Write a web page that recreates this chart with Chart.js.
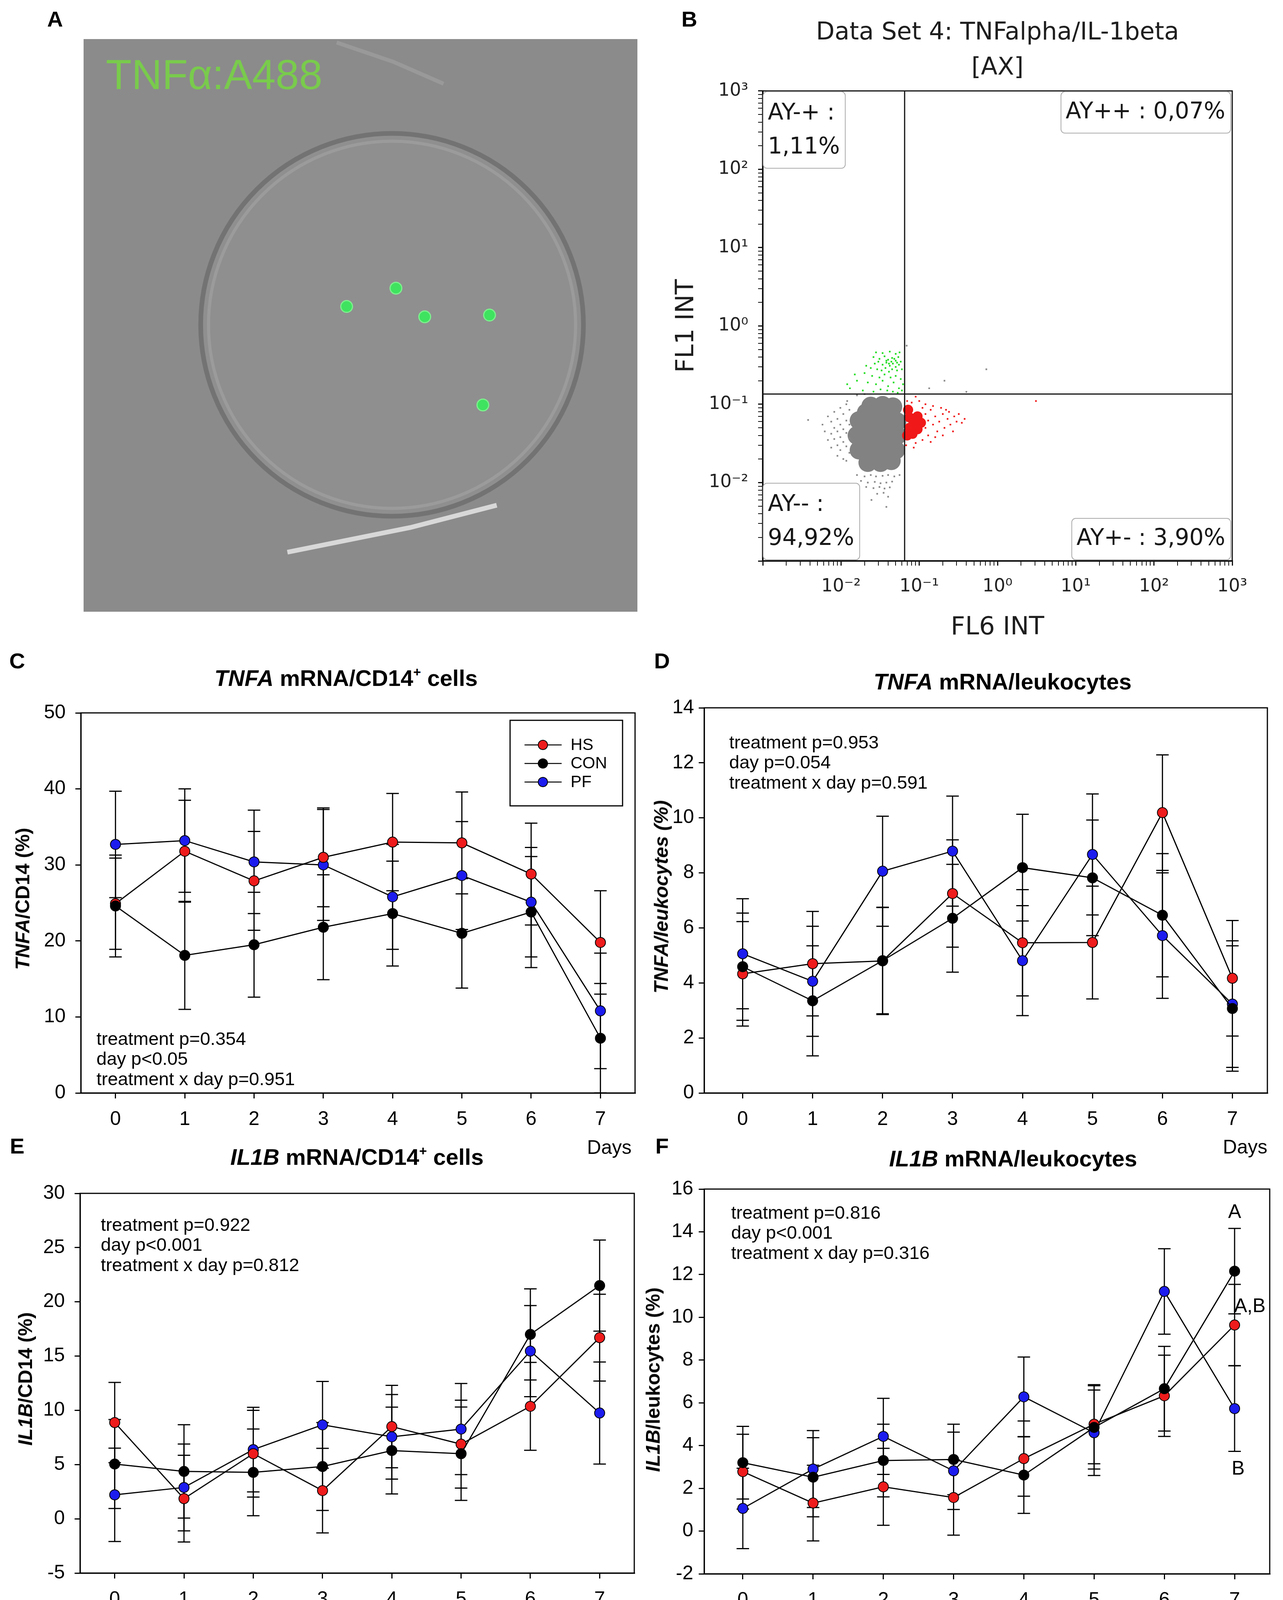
<!DOCTYPE html>
<html lang="en">
<head>
<meta charset="UTF-8">
<title>TNFA / IL1B expression</title>
<style>
  html, body { margin: 0; padding: 0; background: #fff; overflow: hidden; }
  #page { position: relative; width: 3285px; height: 4239px; background: #fff;
          font-family: "Liberation Sans", Arial, sans-serif; color: #000; }
  canvas { position: absolute; }
  .lbl { position: absolute; white-space: nowrap; line-height: 1; transform: translate(-50%, -50%); }
  .panel { font-weight: bold; font-size: 56px; }
  .ttl { font-weight: bold; font-size: 58px; }
  .ttl sup { font-size: 34px; line-height: 0; vertical-align: 24px; }
  .ylab { font-weight: bold; font-size: 50px; transform: translate(-50%, -50%) rotate(-90deg); }
</style>
</head>
<body>
<div id="page">
  <canvas id="chartA"></canvas>
  <canvas id="chartB"></canvas>
  <canvas id="chartC"></canvas>
  <canvas id="chartD"></canvas>
  <canvas id="chartE"></canvas>
  <canvas id="chartF"></canvas>

  <div class="lbl panel" style="left:141px;top:49px">A</div>
  <div class="lbl panel" style="left:1765px;top:49px">B</div>
  <div class="lbl panel" style="left:44px;top:1692px">C</div>
  <div class="lbl panel" style="left:1695px;top:1692px">D</div>
  <div class="lbl panel" style="left:44px;top:2934px">E</div>
  <div class="lbl panel" style="left:1695px;top:2934px">F</div>

  <div class="lbl ttl" style="left:886px;top:1736px"><i>TNFA</i> mRNA/CD14<sup>+</sup> cells</div>
  <div class="lbl ttl" style="left:2567px;top:1745px"><i>TNFA</i> mRNA/leukocytes</div>
  <div class="lbl ttl" style="left:914px;top:2962px"><i>IL1B</i> mRNA/CD14<sup>+</sup> cells</div>
  <div class="lbl ttl" style="left:2594px;top:2966px"><i>IL1B</i> mRNA/leukocytes</div>

  <div class="lbl ylab" style="left:58px;top:2301px"><i>TNFA</i>/CD14 (%)</div>
  <div class="lbl ylab" style="left:1693px;top:2296px"><i>TNFA/leukocytes (%)</i></div>
  <div class="lbl ylab" style="left:65px;top:3530px"><i>IL1B</i>/CD14 (%)</div>
  <div class="lbl ylab" style="left:1672px;top:3532px"><i>IL1B</i>/leukocytes (%)</div>
</div>

<script src="https://cdn.jsdelivr.net/npm/chart.js"></script>
<script>
// ---- data ----
const days = [0, 1, 2, 3, 4, 5, 6, 7];
const dayTitle = 'Days';
const seriesNames = ['HS', 'CON', 'PF'];
const seriesColors = ['#ee1c1c', '#000000', '#1c1cee'];

// C: TNFA mRNA / CD14+ cells
const tnfaCd14Ticks = [0, 10, 20, 30, 40, 50];
const tnfaCd14Hs  = [24.9, 31.8, 27.9, 31.0, 33.0, 32.9, 28.8, 19.8];
const tnfaCd14Con = [24.6, 18.1, 19.5, 21.8, 23.6, 21.0, 23.8, 7.2];
const tnfaCd14Pf  = [32.7, 33.2, 30.4, 30.0, 25.8, 28.6, 25.1, 10.8];
const tnfaCd14HsErr  = [6.0, 6.7, 6.5, 6.5, 6.4, 6.7, 6.7, 6.8];
const tnfaCd14ConErr = [6.7, 7.1, 6.9, 6.9, 6.9, 7.2, 7.3, 7.2];
const tnfaCd14PfErr  = [7.0, 6.8, 6.8, 7.3, 6.9, 7.1, 7.2, 7.6];
const statsC = ['treatment p=0.354', 'day p<0.05', 'treatment x day p=0.951'];

// D: TNFA mRNA / leukocytes
const tnfaLeukTicks = [0, 2, 4, 6, 8, 10, 12, 14];
const tnfaLeukHs  = [4.33, 4.70, 4.80, 7.25, 5.46, 5.47, 10.19, 4.17];
const tnfaLeukCon = [4.59, 3.35, 4.81, 6.35, 8.19, 7.82, 6.46, 3.07];
const tnfaLeukPf  = [5.06, 4.06, 8.06, 8.79, 4.81, 8.67, 5.72, 3.23];
const tnfaLeukHsErr  = [1.9, 1.9, 1.95, 1.95, 1.93, 2.05, 2.1, 2.1];
const tnfaLeukConErr = [1.95, 2.0, 1.93, 1.96, 1.94, 2.1, 2.24, 2.28];
const tnfaLeukPfErr  = [2.0, 2.0, 2.0, 2.0, 2.0, 2.2, 2.28, 2.3];
const statsD = ['treatment p=0.953', 'day p=0.054', 'treatment x day p=0.591'];

// E: IL1B mRNA / CD14+ cells
const il1bCd14Ticks = [-5, 0, 5, 10, 15, 20, 25, 30];
const il1bCd14Hs  = [8.87, 1.86, 6.0, 2.6, 8.5, 6.88, 10.37, 16.7];
const il1bCd14Con = [5.05, 4.37, 4.28, 4.82, 6.29, 6.0, 17.0, 21.5];
const il1bCd14Pf  = [2.21, 2.89, 6.38, 8.66, 7.56, 8.27, 15.46, 9.75];
const il1bCd14HsErr  = [3.7, 4.0, 4.0, 3.9, 3.8, 4.05, 4.05, 4.0];
const il1bCd14ConErr = [4.1, 4.3, 4.0, 4.05, 4.0, 4.3, 4.2, 4.2];
const il1bCd14PfErr  = [4.3, 4.0, 3.9, 4.0, 3.9, 4.2, 4.2, 4.7];
const statsE = ['treatment p=0.922', 'day p<0.001', 'treatment x day p=0.812'];

// F: IL1B mRNA / leukocytes
const il1bLeukTicks = [-2, 0, 2, 4, 6, 8, 10, 12, 14, 16];
const il1bLeukHs  = [2.78, 1.31, 2.07, 1.57, 3.39, 5.0, 6.33, 9.64];
const il1bLeukCon = [3.2, 2.52, 3.30, 3.35, 2.62, 4.85, 6.66, 12.16];
const il1bLeukPf  = [1.06, 2.9, 4.43, 2.82, 6.28, 4.6, 11.21, 5.73];
const il1bLeukHsErr  = [1.75, 1.77, 1.8, 1.76, 1.76, 1.85, 1.9, 1.9];
const il1bLeukConErr = [1.7, 1.85, 1.7, 1.65, 1.79, 1.95, 1.98, 2.0];
const il1bLeukPfErr  = [1.88, 1.8, 1.78, 1.81, 1.86, 2.0, 2.0, 2.0];
const statsF = ['treatment p=0.816', 'day p<0.001', 'treatment x day p=0.316'];
const groupLetters = ['A', 'A,B', 'B'];   // day 7: CON, HS, PF

// B: flow cytometry, FL6 INT (x) vs FL1 INT (y)
const flowTitle = ['Data Set 4: TNFalpha/IL-1beta', '[AX]'];
const flowDecades = [-3, -2, -1, 0, 1, 2];
const gateX = 0.065, gateY = 0.135;
const quadNames = ['AY-+', 'AY++', 'AY--', 'AY+-'];
const quadPct = [1.11, 0.07, 94.92, 3.90];
const grayCore = [
  [0.024, 0.095], [0.034, 0.097], [0.046, 0.093],
  [0.017, 0.062], [0.026, 0.064], [0.038, 0.062], [0.052, 0.060],
  [0.016, 0.040], [0.025, 0.041], [0.037, 0.040], [0.052, 0.040],
  [0.017, 0.026], [0.026, 0.026], [0.038, 0.027], [0.050, 0.026],
  [0.022, 0.018], [0.032, 0.018], [0.044, 0.019],
  [0.021, 0.078], [0.030, 0.079], [0.042, 0.077], [0.021, 0.050], [0.031, 0.051],
  [0.044, 0.050], [0.021, 0.032], [0.031, 0.033], [0.044, 0.033], [0.027, 0.021], [0.038, 0.022]
];
const grayDots = [
  [0.0038, 0.063], [0.0058, 0.055], [0.0062, 0.045], [0.0068, 0.07], [0.0068, 0.035],
  [0.0075, 0.06], [0.0075, 0.042], [0.0075, 0.028], [0.0082, 0.08], [0.0082, 0.05],
  [0.0082, 0.036], [0.009, 0.065], [0.009, 0.045], [0.009, 0.03], [0.009, 0.022],
  [0.0098, 0.09], [0.0098, 0.055], [0.0098, 0.038], [0.0098, 0.026], [0.0107, 0.075],
  [0.0107, 0.048], [0.0107, 0.033], [0.0107, 0.02], [0.0117, 0.1], [0.0117, 0.062],
  [0.0117, 0.043], [0.0117, 0.029], [0.0117, 0.019], [0.0128, 0.085], [0.0128, 0.055],
  [0.0128, 0.037], [0.0128, 0.024], [0.016, 0.0125], [0.02, 0.012], [0.024, 0.0125],
  [0.028, 0.012], [0.034, 0.0122], [0.04, 0.0125], [0.048, 0.012], [0.056, 0.0125],
  [0.018, 0.0105], [0.022, 0.010], [0.027, 0.0102], [0.032, 0.0098], [0.038, 0.010],
  [0.045, 0.0103], [0.021, 0.0088], [0.026, 0.0085], [0.031, 0.0088], [0.036, 0.0084],
  [0.042, 0.0087], [0.029, 0.0072], [0.035, 0.0074], [0.04, 0.0066], [0.0245, 0.006],
  [0.038, 0.0049], [0.016, 0.13], [0.012, 0.11], [0.02, 0.135], [0.72, 0.28],
  [0.134, 0.16], [0.21, 0.2], [0.40, 0.144], [0.069, 0.56]
];
const greenDots = [
  [0.028, 0.46], [0.034, 0.45], [0.042, 0.47], [0.05, 0.44], [0.056, 0.46],
  [0.026, 0.40], [0.031, 0.38], [0.036, 0.41], [0.04, 0.37], [0.045, 0.39],
  [0.05, 0.36], [0.054, 0.40], [0.058, 0.35], [0.027, 0.33], [0.03, 0.35],
  [0.034, 0.32], [0.038, 0.34], [0.042, 0.31], [0.046, 0.33], [0.05, 0.30],
  [0.055, 0.32], [0.024, 0.29], [0.029, 0.28], [0.033, 0.27], [0.037, 0.29],
  [0.041, 0.26], [0.045, 0.28], [0.052, 0.27], [0.06, 0.28], [0.02, 0.25],
  [0.025, 0.23], [0.031, 0.22], [0.036, 0.24], [0.043, 0.22], [0.05, 0.23],
  [0.058, 0.21], [0.016, 0.2], [0.022, 0.19], [0.028, 0.18], [0.034, 0.2],
  [0.04, 0.17], [0.047, 0.19], [0.055, 0.16], [0.062, 0.18], [0.013, 0.16],
  [0.019, 0.15], [0.026, 0.145], [0.032, 0.155], [0.039, 0.15], [0.046, 0.145],
  [0.053, 0.14], [0.06, 0.15], [0.015, 0.24], [0.012, 0.18], [0.021, 0.31],
  [0.038, 0.36], [0.044, 0.35], [0.048, 0.38], [0.041, 0.33], [0.052, 0.34]
];
const redCore = [
  [0.075, 0.068], [0.075, 0.05], [0.085, 0.058], [0.095, 0.07], [0.095, 0.048],
  [0.082, 0.042], [0.07, 0.04], [0.072, 0.085], [0.105, 0.058]
];
const redDots = [
  [0.11, 0.09], [0.12, 0.075], [0.13, 0.062], [0.12, 0.05], [0.14, 0.085],
  [0.15, 0.055], [0.16, 0.07], [0.17, 0.045], [0.18, 0.06], [0.2, 0.075],
  [0.21, 0.05], [0.23, 0.065], [0.25, 0.055], [0.28, 0.07], [0.3, 0.06],
  [0.35, 0.058], [0.38, 0.065], [0.13, 0.04], [0.11, 0.035], [0.09, 0.032],
  [0.08, 0.105], [0.1, 0.11], [0.12, 0.1], [0.15, 0.095], [0.19, 0.09],
  [0.22, 0.085], [0.085, 0.028], [0.14, 0.033], [0.27, 0.045], [0.16, 0.038],
  [0.24, 0.08], [0.068, 0.03], [0.07, 0.11], [0.09, 0.125], [0.32, 0.075],
  [0.2, 0.04], [3.1, 0.11]
];

// A: cell image (positions in % of the frame)
const stainLabel = 'TNFα:A488';
const cellCentre = [[55.7, 50.1]];
const greenSpots = [[47.5, 53.3], [56.4, 56.5], [61.6, 51.5], [73.3, 51.8], [72.1, 36.1]];
const lowerStreak = [[36.8, 10.4], [59.0, 14.7], [74.6, 18.6]];
const upperStreak = [[45.7, 99.4], [56.0, 96.0], [65.0, 92.2]];

// ---- helpers ----
const FONT = '"Liberation Sans", Arial, sans-serif';
const FLOWFONT = '"DejaVu Sans", Verdana, sans-serif';
Chart.defaults.font.family = FONT;
Chart.defaults.color = '#000';

function place(id, left, top, w, h) {
  const c = document.getElementById(id);
  c.width = w; c.height = h;
  c.style.left = left + 'px'; c.style.top = top + 'px';
  c.style.width = w + 'px'; c.style.height = h + 'px';
  return c;
}
const pts = arr => arr.map(p => ({x: p[0], y: p[1]}));

// vertical error bars with caps, under the markers
const errorBars = {
  id: 'errorBars',
  beforeDatasetsDraw(chart) {
    const ctx = chart.ctx, ys = chart.scales.y;
    ctx.save();
    ctx.strokeStyle = '#000';
    ctx.lineWidth = 3;
    chart.data.datasets.forEach((ds, i) => {
      chart.getDatasetMeta(i).data.forEach((pt, j) => {
        const v = ds.data[j].y, e = ds.errors[j];
        const top = ys.getPixelForValue(v + e), bot = ys.getPixelForValue(v - e);
        ctx.beginPath();
        ctx.moveTo(pt.x, top); ctx.lineTo(pt.x, bot);
        ctx.moveTo(pt.x - 16, top); ctx.lineTo(pt.x + 16, top);
        ctx.moveTo(pt.x - 16, bot); ctx.lineTo(pt.x + 16, bot);
        ctx.stroke();
      });
    });
    ctx.restore();
  }
};

// frame, stats text, "Days", legend, group letters
const deco = {
  id: 'deco',
  afterDraw(chart, args, o) {
    const {ctx, chartArea: a} = chart;
    ctx.save();
    ctx.strokeStyle = '#000';
    ctx.lineWidth = 3;
    ctx.strokeRect(a.left, a.top, a.right - a.left, a.bottom - a.top);

    ctx.fillStyle = '#000';
    ctx.textBaseline = 'middle';
    ctx.textAlign = 'left';
    ctx.font = '47px ' + FONT;
    o.stats.forEach((t, i) => ctx.fillText(t, a.left + o.statsX, a.top + o.statsY + i * 51.5));

    ctx.font = '50px ' + FONT;
    ctx.textAlign = 'center';
    ctx.fillText(dayTitle, a.right - o.daysDx, a.bottom + o.daysDy);

    if (o.letters) {
      o.letters.forEach(l => {
        const ds = chart.data.datasets[l.series];
        const pt = chart.getDatasetMeta(l.series).data[7];
        const e = ds.errors[7];
        const v = ds.data[7].y + (l.anchor === 'upper' ? e : l.anchor === 'lower' ? -e : 0);
        ctx.fillText(l.text, pt.x + l.dx, chart.scales.y.getPixelForValue(v) + l.dy);
      });
    }

    if (o.legend) {
      const bw = 288, bh = 219, bx = a.right - 32 - bw, by = a.top + 19;
      ctx.lineWidth = 3;
      ctx.strokeRect(bx, by, bw, bh);
      ctx.font = '42px ' + FONT;
      ctx.textAlign = 'left';
      chart.data.datasets.forEach((ds, i) => {
        const y = by + 63 + i * 47.5;
        ctx.strokeStyle = '#000';
        ctx.lineWidth = 2.5;
        ctx.beginPath(); ctx.moveTo(bx + 37, y); ctx.lineTo(bx + 132, y); ctx.stroke();
        ctx.beginPath(); ctx.arc(bx + 84, y, 12, 0, 2 * Math.PI);
        ctx.fillStyle = ds.pointBackgroundColor; ctx.fill();
        ctx.lineWidth = 2; ctx.stroke();
        ctx.fillStyle = '#000';
        ctx.fillText(ds.label, bx + 155, y + 1);
      });
    }
    ctx.restore();
  }
};

function linePanel(p) {
  const canvas = place(p.id, p.left, p.top, p.width, p.height);
  const sets = [
    {vals: p.hs, errs: p.hsErr, order: 1},
    {vals: p.con, errs: p.conErr, order: 0},
    {vals: p.pf, errs: p.pfErr, order: 2}
  ];
  const axisGrid = {drawOnChartArea: false, drawTicks: true, tickLength: 14, color: '#000', lineWidth: 3};
  const axisBorder = {display: true, color: '#000', width: 3};
  return new Chart(canvas, {
    type: 'line',
    data: {
      datasets: sets.map((s, k) => ({
        label: seriesNames[k],
        data: days.map((d, i) => ({x: d, y: s.vals[i]})),
        errors: s.errs,
        order: s.order,
        borderColor: '#000',
        borderWidth: 3,
        backgroundColor: seriesColors[k],
        pointRadius: 13,
        pointHoverRadius: 13,
        pointBackgroundColor: seriesColors[k],
        pointBorderColor: '#000',
        pointBorderWidth: 2,
        tension: 0,
        fill: false
      }))
    },
    options: {
      responsive: false,
      animation: false,
      events: [],
      layout: {autoPadding: false, padding: {top: p.padTop, right: p.padRight, left: 0, bottom: 0}},
      plugins: {legend: {display: false}, tooltip: {enabled: false}, deco: p.deco},
      scales: {
        x: {
          type: 'linear', min: p.xMin, max: 7.5,
          afterBuildTicks: s => { s.ticks = days.map(v => ({value: v})); },
          afterFit: s => { s.height = 180; },
          grid: axisGrid, border: axisBorder,
          ticks: {color: '#000', font: {size: 50}, padding: 24, maxRotation: 0, autoSkip: false}
        },
        y: {
          type: 'linear', min: p.yTicks[0], max: p.yTicks[p.yTicks.length - 1],
          afterBuildTicks: s => { s.ticks = p.yTicks.map(v => ({value: v})); },
          afterFit: s => { s.width = p.yWidth; },
          grid: axisGrid, border: axisBorder,
          ticks: {color: '#000', font: {size: 50}, padding: p.yPad, autoSkip: false}
        }
      }
    },
    plugins: [errorBars, deco]
  });
}

// ---- panels C-F ----
linePanel({
  id: 'chartC', left: 0, top: 1770, width: 1640, height: 1208,
  padTop: 34, padRight: 14, yWidth: 207, yPad: 25, xMin: -0.5, yTicks: tnfaCd14Ticks,
  hs: tnfaCd14Hs, con: tnfaCd14Con, pf: tnfaCd14Pf,
  hsErr: tnfaCd14HsErr, conErr: tnfaCd14ConErr, pfErr: tnfaCd14PfErr,
  deco: {stats: statsC, statsX: 40, statsY: 837, daysDx: 66, daysDy: 142, legend: true}
});
linePanel({
  id: 'chartD', left: 1640, top: 1770, width: 1645, height: 1208,
  padTop: 28, padRight: 40, yWidth: 163, yPad: 12, xMin: -0.55, yTicks: tnfaLeukTicks,
  hs: tnfaLeukHs, con: tnfaLeukCon, pf: tnfaLeukPf,
  hsErr: tnfaLeukHsErr, conErr: tnfaLeukConErr, pfErr: tnfaLeukPfErr,
  deco: {stats: statsD, statsX: 64, statsY: 91, daysDx: 57, daysDy: 141}
});
linePanel({
  id: 'chartE', left: 0, top: 3000, width: 1640, height: 1207,
  padTop: 33, padRight: 16, yWidth: 205, yPad: 25, xMin: -0.5, yTicks: il1bCd14Ticks,
  hs: il1bCd14Hs, con: il1bCd14Con, pf: il1bCd14Pf,
  hsErr: il1bCd14HsErr, conErr: il1bCd14ConErr, pfErr: il1bCd14PfErr,
  deco: {stats: statsE, statsX: 53, statsY: 83, daysDx: 63, daysDy: 155}
});
linePanel({
  id: 'chartF', left: 1640, top: 3000, width: 1645, height: 1209,
  padTop: 26, padRight: 34, yWidth: 163, yPad: 14, xMin: -0.55, yTicks: il1bLeukTicks,
  hs: il1bLeukHs, con: il1bLeukCon, pf: il1bLeukPf,
  hsErr: il1bLeukHsErr, conErr: il1bLeukConErr, pfErr: il1bLeukPfErr,
  deco: {
    stats: statsF, statsX: 69, statsY: 63, daysDx: 63, daysDy: 147,
    letters: [
      {text: groupLetters[0], series: 1, anchor: 'upper', dx: 0, dy: -40},
      {text: groupLetters[1], series: 0, anchor: 'point', dx: 39, dy: -47},
      {text: groupLetters[2], series: 2, anchor: 'lower', dx: 9, dy: 46}
    ]
  }
});

// ---- panel B: flow cytometry dot plot ----
const sup = {'-': '\u207B', '0': '\u2070', '1': '\u00B9', '2': '\u00B2', '3': '\u00B3'};
function isDecade(v) {
  if (!(v > 0)) return false;
  const l = Math.log10(v);
  return Math.abs(l - Math.round(l)) < 1e-6;
}
function decadeLabel(v) {
  if (!isDecade(v)) return '';
  const e = Math.round(Math.log10(v));
  if (e < -2) return '';
  return '10' + String(e).split('').map(c => sup[c]).join('');
}
function flowTicks(s) {
  const t = [];
  flowDecades.forEach(e => { for (let m = 1; m < 10; m++) t.push({value: m * Math.pow(10, e)}); });
  t.push({value: 1000});
  s.ticks = t;
}

const gates = {
  id: 'gates',
  afterDraw(chart) {
    const {ctx, chartArea: a, scales} = chart;
    const qx = scales.x.getPixelForValue(gateX), qy = scales.y.getPixelForValue(gateY);
    ctx.save();
    ctx.strokeStyle = '#111';
    ctx.lineWidth = 3;
    ctx.beginPath();
    ctx.moveTo(a.left, a.top); ctx.lineTo(a.right, a.top); ctx.lineTo(a.right, a.bottom);
    ctx.moveTo(qx, a.top); ctx.lineTo(qx, a.bottom);
    ctx.moveTo(a.left, qy); ctx.lineTo(a.right, qy);
    ctx.stroke();

    ctx.font = '58px ' + FLOWFONT;
    ctx.textBaseline = 'middle';
    ctx.textAlign = 'left';
    const twoLine = [true, false, true, false];
    quadNames.forEach((name, q) => {
      const pct = quadPct[q].toFixed(2).replace('.', ',') + '%';
      const lines = twoLine[q] ? [name + ' :', pct] : [name + ' : ' + pct];
      const tw = Math.max(...lines.map(t => ctx.measureText(t).width));
      const w = tw + 26, h = twoLine[q] ? 196 : 106;
      const x = q % 2 === 0 ? a.left + 1 : a.right - 4 - w;
      const y = q < 2 ? a.top + 2 : a.bottom - 3 - h;
      ctx.beginPath();
      ctx.roundRect(x, y, w, h, 10);
      ctx.fillStyle = '#fff';
      ctx.fill();
      ctx.strokeStyle = '#aaa';
      ctx.lineWidth = 2;
      ctx.stroke();
      ctx.fillStyle = '#161616';
      lines.forEach((t, i) => ctx.fillText(t, x + 12, twoLine[q] ? y + 56 + i * 87 : y + h / 2));
    });
    ctx.restore();
  }
};

const flowGrid = {
  drawOnChartArea: false, drawTicks: true, tickLength: 12, color: '#111',
  lineWidth: c => (c.tick && isDecade(c.tick.value) ? 3 : 2)
};
new Chart(place('chartB', 1700, 0, 1585, 1650), {
  type: 'scatter',
  data: {
    datasets: [
      {data: pts(greenDots), pointStyle: 'rect', pointRadius: 3, pointBackgroundColor: '#22dd22', pointBorderWidth: 0},
      {data: pts(redDots), pointStyle: 'rect', pointRadius: 3, pointBackgroundColor: '#f01818', pointBorderWidth: 0},
      {data: pts(redCore), pointRadius: 13, pointBackgroundColor: '#f01818', pointBorderWidth: 0},
      {data: pts(grayDots), pointStyle: 'rect', pointRadius: 3, pointBackgroundColor: '#8a8a8a', pointBorderWidth: 0},
      {data: pts(grayCore), pointRadius: 24, pointBackgroundColor: '#828282', pointBorderWidth: 0}
    ]
  },
  options: {
    responsive: false,
    animation: false,
    events: [],
    layout: {autoPadding: false, padding: {top: 0, right: 130, left: 0, bottom: 0}},
    plugins: {
      legend: {display: false},
      tooltip: {enabled: false},
      title: {
        display: true, text: flowTitle, fullSize: false, color: '#1e1e1e',
        font: {family: FLOWFONT, size: 62, weight: 'normal', lineHeight: 1.45},
        padding: {top: 40, bottom: 13}
      }
    },
    scales: {
      x: {
        type: 'logarithmic', min: 1e-3, max: 1e3,
        afterBuildTicks: flowTicks,
        afterFit: s => { s.height = 214; },
        grid: flowGrid,
        border: {display: true, color: '#111', width: 4},
        ticks: {autoSkip: false, maxRotation: 0, padding: 26, color: '#222',
                font: {family: FLOWFONT, size: 46}, callback: v => decadeLabel(v)},
        title: {display: true, text: 'FL6 INT', color: '#1e1e1e',
                font: {family: FLOWFONT, size: 64}, padding: {top: 0, bottom: 4}}
      },
      y: {
        type: 'logarithmic', min: 1e-3, max: 1e3,
        afterBuildTicks: flowTicks,
        afterFit: s => { s.width = 253; },
        grid: flowGrid,
        border: {display: true, color: '#111', width: 4},
        ticks: {autoSkip: false, padding: 25, color: '#222',
                font: {family: FLOWFONT, size: 46}, callback: v => decadeLabel(v)},
        title: {display: true, text: 'FL1 INT', color: '#1e1e1e',
                font: {family: FLOWFONT, size: 64}, padding: {top: 20, bottom: 0}}
      }
    }
  },
  plugins: [gates]
});

// ---- panel A: cell image ----
const cellDeco = {
  id: 'cellDeco',
  beforeDraw(chart) {
    const {ctx, chartArea: a} = chart;
    ctx.save();
    ctx.fillStyle = '#8b8b8b';
    ctx.fillRect(a.left, a.top, a.right - a.left, a.bottom - a.top);
    ctx.restore();
  },
  afterDraw(chart) {
    const {ctx, chartArea: a} = chart;
    ctx.save();
    ctx.font = '108px ' + FONT;
    ctx.fillStyle = '#79cb4c';
    ctx.textBaseline = 'middle';
    ctx.textAlign = 'left';
    ctx.fillText(stainLabel, a.left + 57, a.top + 98);
    ctx.restore();
  }
};
new Chart(place('chartA', 214, 100, 1418, 1466), {
  type: 'scatter',
  data: {
    datasets: [
      {data: pts(greenSpots), pointRadius: 15, pointBackgroundColor: '#3fe35f', pointBorderColor: '#7ef08e', pointBorderWidth: 3},
      {data: pts(lowerStreak), showLine: true, pointRadius: 0, borderColor: 'rgba(235,235,235,0.8)', borderWidth: 12},
      {data: pts(upperStreak), showLine: true, pointRadius: 0, borderColor: 'rgba(180,180,180,0.35)', borderWidth: 10},
      {data: pts(cellCentre), pointRadius: 470, pointBackgroundColor: 'rgba(0,0,0,0)', pointBorderColor: 'rgba(170,170,170,0.45)', pointBorderWidth: 8},
      {data: pts(cellCentre), pointRadius: 490, pointBackgroundColor: '#8f8f8f', pointBorderColor: '#737373', pointBorderWidth: 12}
    ]
  },
  options: {
    responsive: false,
    animation: false,
    events: [],
    layout: {autoPadding: false, padding: 0},
    plugins: {legend: {display: false}, tooltip: {enabled: false}},
    scales: {
      x: {type: 'linear', min: 0, max: 100, display: false},
      y: {type: 'linear', min: 0, max: 100, display: false}
    }
  },
  plugins: [cellDeco]
});
</script>
</body>
</html>
